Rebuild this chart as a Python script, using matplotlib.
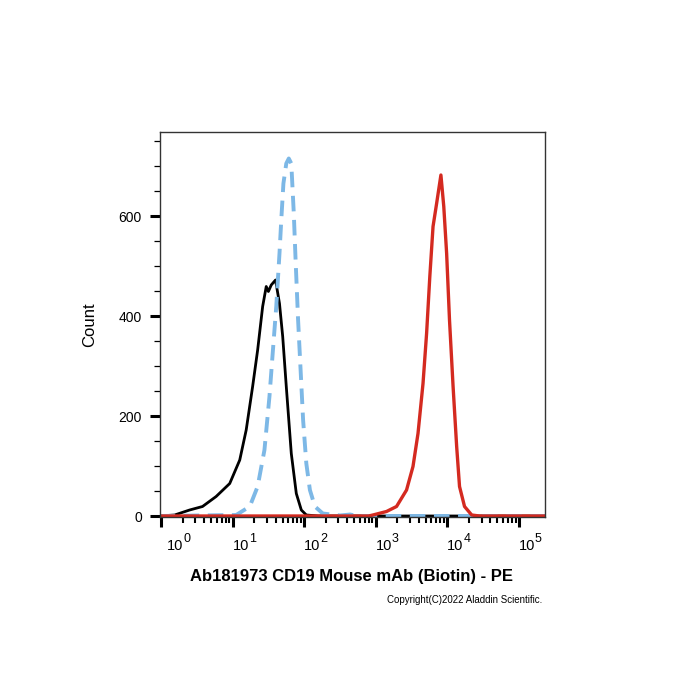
import numpy as np
import matplotlib.pyplot as plt
from matplotlib.ticker import FixedLocator

plt.rcParams['font.family'] = ['Liberation Sans', 'DejaVu Sans']

# log10 fluorescence positions and counts
black_log = [-0.02, 0.19, 0.40, 0.58, 0.77, 0.96, 1.10, 1.19, 1.28, 1.35, 1.42, 1.47, 1.50,
             1.54, 1.60, 1.655, 1.70, 1.75, 1.82, 1.89, 1.96, 2.03, 2.2, 5.4]
black_count = [0, 2, 12, 19, 39, 65, 112, 172, 259, 332, 419, 459, 449,
               462, 472, 425, 359, 259, 125, 45, 12, 2, 0, 0]

blue_log = [-0.02, 1.05, 1.24, 1.35, 1.445, 1.515, 1.56, 1.61, 1.655, 1.68, 1.71, 1.75, 1.785,
            1.82, 1.855, 1.88, 1.915, 1.95, 1.985, 2.03, 2.08, 2.15, 2.26, 2.5, 2.64, 2.75, 5.4]
blue_count = [0, 2, 19, 59, 132, 239, 325, 419, 525, 592, 665, 705, 715,
              705, 605, 512, 392, 292, 192, 105, 52, 19, 5, 1, 3, 0, 0]

red_log = [-0.02, 2.9, 2.96, 3.15, 3.29, 3.43, 3.52, 3.59, 3.66, 3.71, 3.755, 3.80, 3.85, 3.91,
           3.95, 3.99, 4.03, 4.08, 4.13, 4.17, 4.24, 4.34, 4.45, 5.4]
red_count = [0, 0, 2, 9, 19, 52, 99, 165, 265, 365, 479, 579, 625, 682,
             619, 525, 392, 259, 139, 59, 19, 2, 0, 0]

decades = [0, 1, 2, 3, 4, 5]
y_major = [0, 200, 400, 600]
y_minor = [50, 100, 150, 250, 300, 350, 450, 500, 550, 650, 700, 750]

fig = plt.figure(figsize=(7, 7), dpi=100)
ax = fig.add_axes([160 / 700, 1 - 517 / 700, 385 / 700, 385 / 700])

ax.plot(10 ** np.array(black_log), black_count, color='black', lw=2.0)
ax.plot(10 ** np.array(blue_log), blue_count, color='#7db8e6', lw=2.8,
        linestyle=(0, (4, 2.2)))
ax.plot(10 ** np.array(red_log), red_count, color='#d42a20', lw=2.4)

ax.set_xscale('log')
ax.set_xlim(10 ** -0.014, 10 ** 5.364)
ax.set_ylim(-2, 768)

ax.set_xticks([10.0 ** d for d in decades])
ax.set_xticklabels([])
minors = [m * 10.0 ** d for d in decades[:-1] for m in range(2, 10)]
ax.xaxis.set_minor_locator(FixedLocator(minors))
ax.xaxis.set_minor_formatter(plt.NullFormatter())

ax.set_yticks(y_major)
ax.set_yticks(y_minor, minor=True)

ax.tick_params(axis='x', which='major', direction='out', length=7.5, width=2.2, top=False)
ax.tick_params(axis='x', which='minor', direction='out', length=4.5, width=1.5, top=False)
ax.tick_params(axis='y', which='major', direction='out', length=7, width=2.2,
               labelsize=10, pad=6, right=False)
ax.tick_params(axis='y', which='minor', direction='out', length=4, width=0.9, right=False)

# decade labels "10" with raised exponent, set a little right of each tick
for d in decades:
    extra = 6 if d == 0 else 0
    ax.annotate('10', xy=(10.0 ** d, 0), xycoords=('data', 'axes fraction'),
                xytext=(extra, -33), textcoords='offset pixels',
                ha='left', va='baseline', fontsize=10.5, annotation_clip=False)
    ax.annotate(str(d), xy=(10.0 ** d, 0), xycoords=('data', 'axes fraction'),
                xytext=(16 + extra, -25), textcoords='offset pixels',
                ha='left', va='baseline', fontsize=9, annotation_clip=False)

for s in ax.spines.values():
    s.set_linewidth(1.0)
    s.set_color('#333333')

fig.text(90 / 700, 1 - 325 / 700, 'Count', rotation=90, ha='center', va='center',
         fontsize=12)

fig.text(351 / 700, 1 - 577 / 700, 'Ab181973 CD19 Mouse mAb (Biotin) - PE',
         ha='center', va='center', fontsize=12, fontweight='bold')
fig.text(542 / 700, 1 - 600 / 700, 'Copyright(C)2022 Aladdin Scientific.',
         ha='right', va='center', fontsize=7)

fig.savefig('out.png', dpi=100)
